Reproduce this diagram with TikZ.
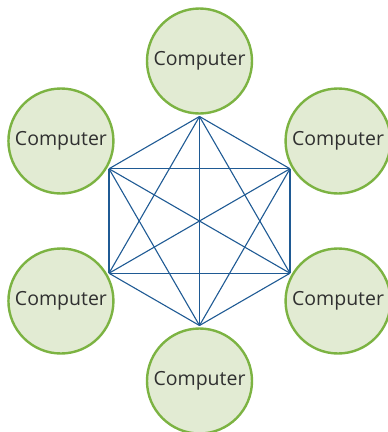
\documentclass[tikz,border=0pt]{standalone}
\usepackage{fontspec}
\setmainfont{Open Sans}
\usepackage{tikz}

\definecolor{pcgreen}{HTML}{7CB342}
\definecolor{pcfill}{HTML}{E2EBD3}
\definecolor{netblue}{HTML}{1F5A94}
\definecolor{pctext}{HTML}{303030}

\tikzset{
  pc/.style={circle, draw=pcgreen, fill=pcfill, line width=2.4pt, minimum size=105pt,
    inner sep=0pt, text=pctext, font=\fontsize{19.5}{21}\selectfont},
  link/.style={draw=netblue, line width=1.1pt}
}

\begin{document}
\begin{tikzpicture}
\useasboundingbox (0,0) rectangle (388pt,-432pt);
\coordinate (mid) at (199.5pt,-221pt);
% computers round the hexagon
\foreach \i/\a in {1/90,2/150,3/210,4/270,5/330,6/30}{
  \node[pc] (c\i) at ([shift={(\a:160pt)}]mid) {Computer};
  \coordinate (v\i) at ([shift={(\a:104.5pt)}]mid);
}
% every computer linked to every other
\foreach \i in {1,...,5}{
  \pgfmathtruncatemacro\nxt{\i+1}
  \foreach \j in {\nxt,...,6}{
    \draw[link] (v\i) -- (v\j);
  }
}
\end{tikzpicture}
\end{document}
